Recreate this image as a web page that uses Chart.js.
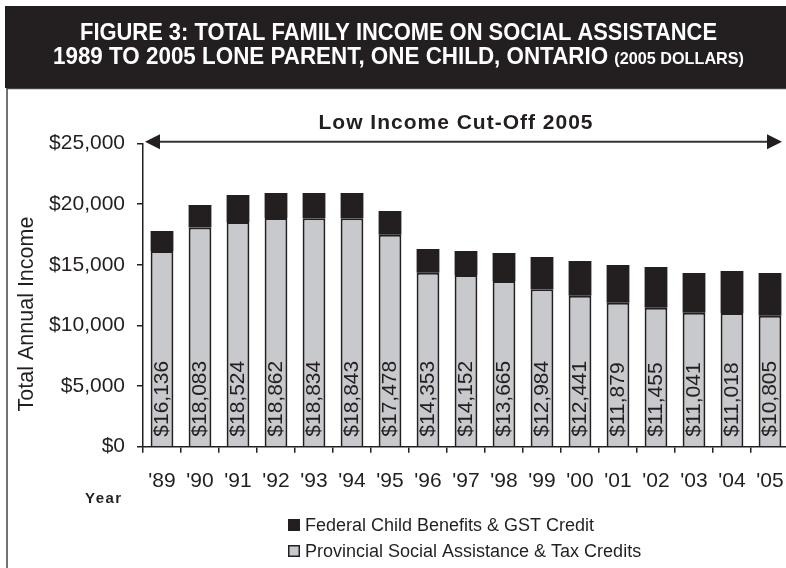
<!DOCTYPE html>
<html>
<head>
<meta charset="utf-8">
<script src="https://cdn.jsdelivr.net/npm/chart.js@4"></script>
<style>
  html, body { margin: 0; padding: 0; background: #fff; overflow: hidden; }
  #wrap { position: relative; width: 800px; height: 568px; }
</style>
</head>
<body>
<div id="wrap"><canvas id="incomeChart"></canvas></div>
<script>
  const years = ["'89", "'90", "'91", "'92", "'93", "'94", "'95", "'96", "'97",
    "'98", "'99", "'00", "'01", "'02", "'03", "'04", "'05"];
  const provincial = [16136, 18083, 18524, 18862, 18834, 18843, 17478, 14353,
    14152, 13665, 12984, 12441, 11879, 11455, 11041, 11018, 10805];
  const federal = [1650, 1850, 2230, 2060, 2090, 2080, 1960, 1950, 1990, 2310,
    2660, 2870, 3100, 3360, 3280, 3470, 3520];
  const seriesNames = ["Provincial Social Assistance & Tax Credits",
    "Federal Child Benefits & GST Credit"];
  const lowIncomeCutOff = 25150;
  const cutOffLabel = "Low Income Cut-Off 2005";
  const titleLine1 = "FIGURE 3: TOTAL FAMILY INCOME ON SOCIAL ASSISTANCE";
  const titleLine2 = "1989 TO 2005 LONE PARENT, ONE CHILD, ONTARIO ";
  const titleNote = "(2005 DOLLARS)";
  const yTitle = "Total Annual Income";
  const xTitle = "Year";

  const ink = "#231f20";
  const grey = "#c8c9cc";
  const sans = "'Liberation Sans', Arial, sans-serif";

  const money = (v) => "$" + v.toLocaleString("en-US");

  // draw text parts squeezed to a given width (condensed look)
  function fitText(ctx, parts, cx, baseline, width) {
    let total = 0;
    parts.forEach((p) => {
      ctx.font = p.font;
      p.w = ctx.measureText(p.text).width;
      total += p.w;
    });
    ctx.save();
    ctx.translate(cx - width / 2, baseline);
    ctx.scale(width / total, 1);
    let x = 0;
    parts.forEach((p) => {
      ctx.font = p.font;
      ctx.fillText(p.text, x, 0);
      x += p.w;
    });
    ctx.restore();
  }

  const decorations = {
    id: "decorations",
    beforeDraw(chart) {
      const ctx = chart.ctx;
      ctx.save();
      ctx.fillStyle = "#fff";
      ctx.fillRect(0, 0, chart.width, chart.height);
      // frame
      ctx.strokeStyle = "#444";
      ctx.lineWidth = 1.5;
      ctx.beginPath();
      ctx.moveTo(7, chart.height + 5);
      ctx.lineTo(7, 88.5);
      ctx.lineTo(chart.width + 5, 88.5);
      ctx.stroke();
      // title box
      ctx.fillStyle = ink;
      ctx.fillRect(5, 6, chart.width, 82);
      ctx.fillStyle = "#fff";
      ctx.textAlign = "left";
      ctx.textBaseline = "alphabetic";
      fitText(ctx, [{ text: titleLine1, font: "bold 23.5px " + sans }], 398.5, 39.5, 637);
      fitText(ctx, [
        { text: titleLine2, font: "bold 23.5px " + sans },
        { text: titleNote, font: "bold 17px " + sans },
      ], 398.5, 63.5, 691);
      ctx.restore();
    },
    afterDatasetsDraw(chart) {
      const ctx = chart.ctx;
      const meta = chart.getDatasetMeta(0);
      const y0 = chart.scales.y.getPixelForValue(0);
      ctx.save();
      ctx.fillStyle = ink;
      ctx.font = "21px " + sans;
      ctx.textAlign = "left";
      ctx.textBaseline = "middle";
      meta.data.forEach((bar, i) => {
        ctx.save();
        ctx.translate(bar.x, y0 - 10);
        ctx.rotate(-Math.PI / 2);
        ctx.fillText(money(chart.data.datasets[0].data[i]), 0, 0);
        ctx.restore();
      });
      ctx.restore();
    },
    afterDraw(chart) {
      const ctx = chart.ctx;
      const area = chart.chartArea;
      const ya = chart.scales.y.getPixelForValue(lowIncomeCutOff);
      const xl = area.left + 2;
      const xr = area.right - 7;
      ctx.save();
      // cut-off arrow
      ctx.strokeStyle = "#333";
      ctx.fillStyle = ink;
      ctx.lineWidth = 2;
      ctx.beginPath();
      ctx.moveTo(xl + 10, ya);
      ctx.lineTo(xr - 10, ya);
      ctx.stroke();
      ctx.beginPath();
      ctx.moveTo(xl, ya);
      ctx.lineTo(xl + 15, ya - 7.5);
      ctx.lineTo(xl + 15, ya + 7.5);
      ctx.closePath();
      ctx.fill();
      ctx.beginPath();
      ctx.moveTo(xr, ya);
      ctx.lineTo(xr - 15, ya - 7.5);
      ctx.lineTo(xr - 15, ya + 7.5);
      ctx.closePath();
      ctx.fill();

      ctx.font = "bold 21px " + sans;
      ctx.letterSpacing = "1px";
      ctx.textAlign = "center";
      ctx.textBaseline = "alphabetic";
      ctx.fillText(cutOffLabel, 456, 129);

      // x title
      ctx.font = "bold 15px " + sans;
      ctx.letterSpacing = "1.5px";
      ctx.textAlign = "left";
      ctx.fillText(xTitle, 85, 503);
      ctx.letterSpacing = "0px";

      // y title
      ctx.save();
      ctx.translate(33, 314);
      ctx.rotate(-Math.PI / 2);
      ctx.font = "21.5px " + sans;
      ctx.textAlign = "center";
      ctx.fillText(yTitle, 0, 0);
      ctx.restore();

      // legend (stack order reversed)
      const ds = chart.data.datasets;
      const rows = [
        { d: ds[1], top: 519, base: 531 },
        { d: ds[0], top: 545, base: 557 },
      ];
      ctx.font = "18px " + sans;
      rows.forEach((r) => {
        ctx.fillStyle = r.d.backgroundColor;
        ctx.fillRect(288, r.top, 12, 12);
        if (r.d.backgroundColor !== ink) {
          ctx.strokeStyle = ink;
          ctx.lineWidth = 1.5;
          ctx.strokeRect(288.75, r.top + 0.75, 10.5, 10.5);
        }
        ctx.fillStyle = ink;
        ctx.fillText(r.d.label, 305, r.base);
      });
      ctx.restore();
    },
  };

  new Chart(document.getElementById("incomeChart"), {
    type: "bar",
    data: {
      labels: years,
      datasets: [
        {
          label: seriesNames[0],
          data: provincial,
          backgroundColor: grey,
          borderColor: ink,
          borderWidth: 2,
        },
        {
          label: seriesNames[1],
          data: federal,
          backgroundColor: ink,
          borderColor: ink,
          borderWidth: 0,
        },
      ],
    },
    options: {
      responsive: true,
      maintainAspectRatio: false,
      animation: false,
      layout: {
        padding: { top: 143.5, right: 11, left: 0, bottom: 0 },
      },
      datasets: {
        bar: { barPercentage: 0.6, categoryPercentage: 1 },
      },
      plugins: {
        legend: { display: false },
        tooltip: { enabled: false },
      },
      scales: {
        x: {
          stacked: true,
          afterFit: (scale) => { scale.height = 121.3; },
          grid: {
            display: true,
            drawOnChartArea: false,
            tickLength: 6,
            color: ink,
            lineWidth: 1.5,
          },
          border: { display: true, color: ink, width: 1.5 },
          ticks: {
            color: ink,
            padding: 16,
            font: { family: sans, size: 21 },
            maxRotation: 0,
            autoSkip: false,
          },
        },
        y: {
          stacked: true,
          min: 0,
          max: 25000,
          afterFit: (scale) => { scale.width = 143; },
          grid: {
            display: true,
            drawOnChartArea: false,
            tickLength: 6,
            color: ink,
            lineWidth: 1.5,
          },
          border: { display: true, color: ink, width: 1.5 },
          ticks: {
            stepSize: 5000,
            color: ink,
            padding: 12,
            font: { family: sans, size: 21 },
            callback: (v) => money(v),
          },
        },
      },
    },
    plugins: [decorations],
  });
</script>
</body>
</html>
